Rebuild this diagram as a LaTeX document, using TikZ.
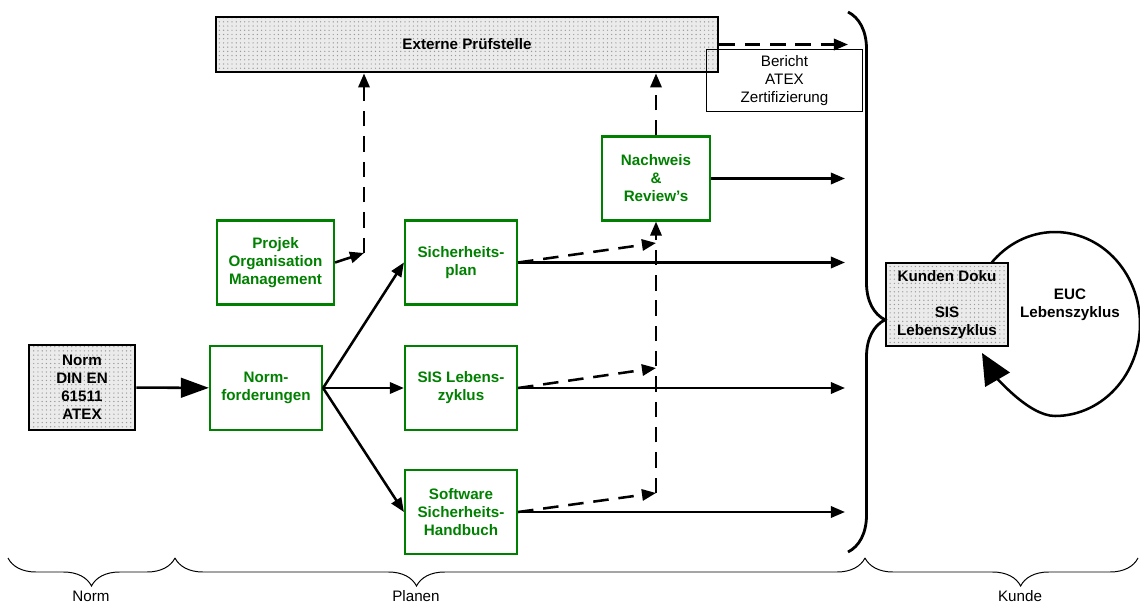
\documentclass[tikz,border=0pt]{standalone}
\usepackage{fontspec}
\setmainfont{Liberation Sans}
\usetikzlibrary{positioning,calc,arrows,arrows.meta,patterns,decorations.pathreplacing}
\newcommand{\kastenschrift}{\fontsize{10.8}{12.8}\selectfont}
\definecolor{normgruen}{RGB}{0,128,0}
\tikzset{font=\kastenschrift}
\tikzset{
	gruenbox/.style={draw=normgruen, line width=1.5pt, text=normgruen, font=\kastenschrift\bfseries,
		align=center, inner sep=1pt, minimum width=2.8cm, minimum height=2.1cm},
	graubox/.style={draw, line width=2pt, preaction={fill=gray!16}, pattern=dots, pattern color=gray!80,
		font=\kastenschrift\bfseries, align=center, inner sep=1pt},
	pfeil/.style={line width=1.8pt, -{Triangle[length=10pt,width=8pt]}},
	grosspfeil/.style={line width=1.8pt, -{Triangle[length=20pt,width=14pt]}},
	strichpfeil/.style={pfeil, dash pattern=on 11pt off 7pt},
	klammer/.style={decorate, decoration={brace, amplitude=0.7cm, mirror}, line width=0.7pt},
}

\begin{document}
\begin{tikzpicture}[x=0.025cm, y=-0.025cm]
	\useasboundingbox (0,0) rectangle (1140,604);

	% Pruefstelle oben
	\node[graubox, minimum width=12.55cm, minimum height=1.375cm] (pruef) at (467,44.5) {Externe Prüfstelle};
	\node[draw, line width=0.7pt, align=center, inner sep=1pt, minimum width=3.875cm, minimum height=1.525cm]
		(bericht) at (784.5,80.5) {Bericht\\ATEX\\Zertifizierung};

	% Norm und Planung
	\node[graubox, minimum width=2.65cm, minimum height=2.125cm] (norm) at (82,387.5) {Norm\\DIN EN\\61511\\ATEX};
	\node[gruenbox] (normf) at (266,388) {Norm-\\forderungen};
	\node[gruenbox, minimum width=2.925cm] (projek) at (275.5,262.5) {Projek\\Organisation\\Management};
	\node[gruenbox] (splan) at (461,262.5) {Sicherheits-\\plan};
	\node[gruenbox] (sislz) at (461,388) {SIS Lebens-\\zyklus};
	\node[gruenbox] (swhb) at (461,512) {Software\\Sicherheits-\\Handbuch};
	\node[gruenbox, minimum width=2.7cm] (nachweis) at (656,178.5) {Nachweis\\\&\\Review's};

	\draw[grosspfeil] (norm) -- (normf);
	\draw[pfeil] (normf.east) -- (splan.west);
	\draw[pfeil] (normf.east) -- (sislz.west);
	\draw[pfeil] (normf.east) -- (swhb.west);

	\coordinate (rand) at (845,0);
	\foreach \n in {nachweis,splan,sislz,swhb}
		\draw[pfeil] (\n.east) -- (\n.east -| rand);

	% Nachweise an die Pruefstelle
	\coordinate (pj) at (364,253);
	\draw[pfeil] (projek.east) -- (pj);
	\draw[strichpfeil] (pj) -- (pj |- pruef.south);
	\coordinate (n1) at (656,243);
	\coordinate (n2) at (656,368);
	\coordinate (n3) at (656,493);
	\draw[strichpfeil] (splan.east) -- (n1);
	\draw[strichpfeil] (sislz.east) -- (n2);
	\draw[strichpfeil] (swhb.east) -- (n3);
	\draw[strichpfeil] (n3) -- (n3 |- nachweis.south);
	\draw[strichpfeil] (nachweis.north) -- (nachweis.north |- pruef.south);
	\coordinate (pe) at (848,44.5);
	\draw[strichpfeil] (pruef.east) -- (pe);

	% Kunde
	\draw[line width=1.8pt, -{Triangle[length=22pt,width=20pt]}]
		plot[domain=215:450, samples=80] ({1055+85*cos(\x)}, {324+92*sin(\x)})
		.. controls (1028,416) and (994.5,374.5) .. (982,353);
	\node[graubox, minimum width=3.05cm, minimum height=2.075cm] (kunde) at (947,304.5)
		{Kunden Doku\\[12.8pt]SIS\\Lebenszyklus};
	\node[font=\kastenschrift\bfseries, align=center] (euc) at (1070,305) {EUC\\Lebenszyklus};

	% Klammern
	\draw[decorate, decoration={brace, amplitude=0.925cm, aspect=0.57}, line width=2pt] (848,12) -- (848,552);
	\draw[klammer] (8,558) -- (175,558);
	\draw[klammer, decoration={aspect=0.35}] (175,558) -- (865,558);
	\draw[klammer, decoration={aspect=0.57}] (865,558) -- (1138,558);
	\node[inner sep=0pt] (lnorm) at (91,596) {Norm};
	\node[inner sep=0pt] (lplanen) at (416,596) {Planen};
	\node[inner sep=0pt] (lkunde) at (1020,596) {Kunde};
\end{tikzpicture}
\end{document}
